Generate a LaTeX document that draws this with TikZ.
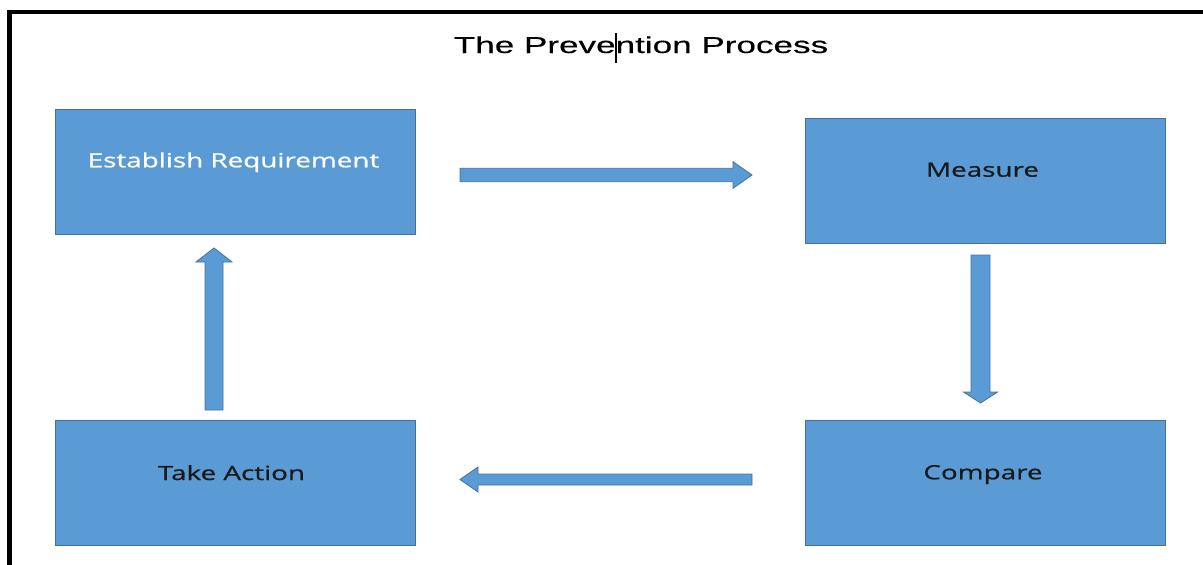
\documentclass[tikz,border=0pt]{standalone}
\usepackage{fontspec}
\newfontfamily\titlefont[FakeStretch=1.525,FakeBold=0.3]{Liberation Sans}
\newfontfamily\boxfont[FakeStretch=1.42,FakeBold=0.8]{Open Sans}
\definecolor{boxblue}{HTML}{5B9BD5}
\definecolor{boxedge}{HTML}{41719C}
\definecolor{darktext}{HTML}{1A1A1A}
\tikzset{
  stepbox/.style={draw=boxedge, line width=1pt, fill=boxblue, inner sep=0pt, minimum width=360pt, minimum height=125pt},
  boxtext/.style={anchor=base, inner sep=0pt, font=\boxfont\fontsize{19.6}{23}\selectfont, text=darktext},
  blockarrow/.style={draw=boxedge, line width=0.8pt, fill=boxblue, line join=miter},
  frame/.style={line width=4.3pt, black}
}
\begin{document}
\begin{tikzpicture}[x=1pt, y=-1pt]
\useasboundingbox (0,0) rectangle (1203,565);
% frame
\draw[frame] (1210,12) -- (9.5,12) -- (9.5,570);
% title
\node[anchor=base, inner sep=0pt, font=\titlefont\fontsize{23}{27}\selectfont] (title) at (641,53)
  {The Preve\makebox[0pt]{\rule[-10pt]{2pt}{30pt}}ntion Process};
% boxes
\node[stepbox] (est) at (235,171.5) {};
\node[stepbox] (meas) at (985,180.5) {};
\node[stepbox] (act) at (235,482.5) {};
\node[stepbox] (comp) at (985,482.5) {};
% texts
\node[boxtext, text=white] (estT) at (233.5,167.3) {Establish Requirement};
\node[boxtext] (measT) at (982.5,176.7) {Measure};
\node[boxtext] (actT) at (231.5,480) {Take Action};
\node[boxtext] (compT) at (983,479.3) {Compare};
% arrows (block arrows between boxes)
% right: Establish -> Measure
\draw[blockarrow] (460,168.3) -- (733,168.3) -- (733,161.7) -- (752,175) -- (733,188.3) -- (733,181.7) -- (460,181.7) -- cycle;
% down: Measure -> Compare
\draw[blockarrow] (971,255) -- (990,255) -- (990,392) -- (997.5,392) -- (980.5,403) -- (963.5,392) -- (971,392) -- cycle;
% left: Compare -> Take Action
\draw[blockarrow] (752,474) -- (478,474) -- (478,467) -- (460,479.5) -- (478,492) -- (478,485) -- (752,485) -- cycle;
% up: Take Action -> Establish
\draw[blockarrow] (205,410) -- (223,410) -- (223,262) -- (232,262) -- (214,248) -- (196,262) -- (205,262) -- cycle;
\end{tikzpicture}
\end{document}
